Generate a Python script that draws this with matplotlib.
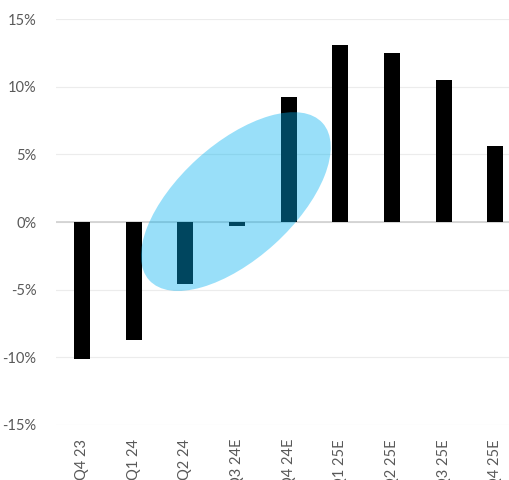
import matplotlib.pyplot as plt
from matplotlib.patches import Ellipse
from matplotlib.transforms import ScaledTranslation

quarters = ["Q4 23", "Q1 24", "Q2 24", "Q3 24E", "Q4 24E", "Q1 25E", "Q2 25E", "Q3 25E", "Q4 25E"]
growth = [-10.1, -8.7, -4.6, -0.3, 9.2, 13.1, 12.5, 10.5, 5.6]
yticks = [-15, -10, -5, 0, 5, 10, 15]

# highlight ellipse (centre in data units, size in inches)
hl_center = (2.98, 1.51)
hl_size = (2.34, 1.15)
hl_angle = 42.2

plt.rcParams['font.family'] = ['Lato', 'DejaVu Sans']

fig = plt.figure(figsize=(5.1, 4.8), dpi=100)
ax = fig.add_axes([0.1098, 0.1146, 0.912, 0.8458])

x = list(range(len(quarters)))
ax.bar(x, growth, width=0.31, color="black", zorder=2)

ax.set_ylim(-15, 15)
ax.set_xlim(-0.5, 8.5)
ax.set_yticks(yticks)
ax.set_yticklabels([f"{v}%" for v in yticks])
ax.set_xticks(x)
ax.set_xticklabels(quarters, rotation=90)
ax.tick_params(length=0, colors="#595959", labelsize=10.5)
ax.tick_params(axis="y", pad=14)
ax.tick_params(axis="x", pad=10)

for s in ax.spines.values():
    s.set_visible(False)
ax.yaxis.grid(True, color="#ececec", linewidth=0.8, zorder=0)
ax.set_axisbelow(True)
ax.axhline(0, color="#d0d0d0", linewidth=1.2, zorder=1)

tr = fig.dpi_scale_trans + ScaledTranslation(hl_center[0], hl_center[1], ax.transData)
ell = Ellipse((0, 0), hl_size[0], hl_size[1], angle=hl_angle,
              facecolor="#00B0F0", alpha=0.4, edgecolor="none", transform=tr, zorder=3)
ax.add_patch(ell)

fig.savefig("out.png", dpi=100)
